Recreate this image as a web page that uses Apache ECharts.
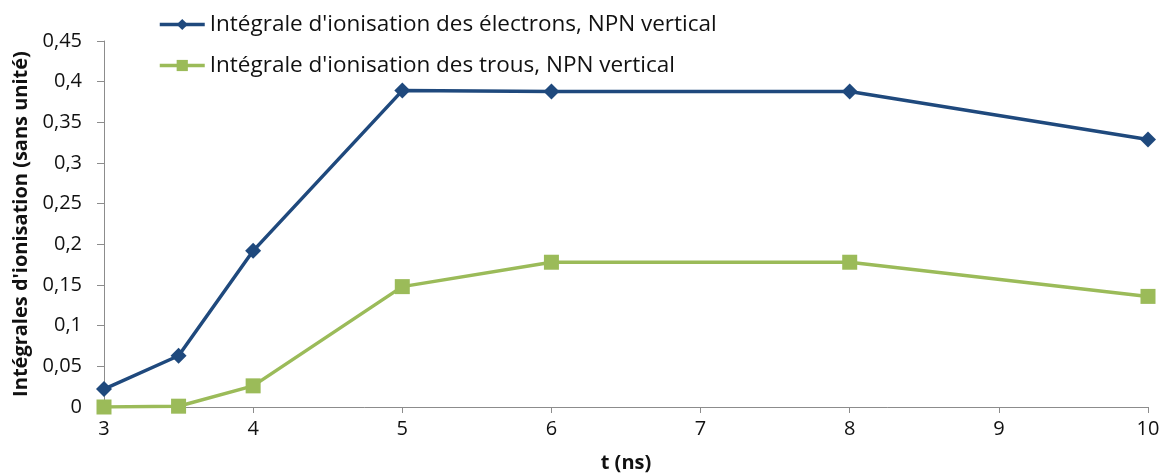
<!DOCTYPE html>
<html>
<head>
<meta charset="utf-8">
<script src="https://cdn.jsdelivr.net/npm/echarts@6/dist/echarts.min.js"></script>
<style>
  html, body { margin: 0; padding: 0; background: #fff; }
  #chart { width: 1167px; height: 475px; }
</style>
</head>
<body>
<div id="chart"></div>
<script>
// Time samples (ns)
const times = [3, 3.5, 4, 5, 6, 8, 10];
// Ionisation integrals (dimensionless)
const electrons = [0.022, 0.063, 0.192, 0.389, 0.388, 0.388, 0.329];
const holes = [0.0, 0.001, 0.026, 0.148, 0.178, 0.178, 0.136];
const seriesNames = [
  "Intégrale d'ionisation des électrons, NPN vertical",
  "Intégrale d'ionisation des trous, NPN vertical"
];
const xTitle = 't (ns)';
const yTitle = "Intégrales d'ionisation (sans unité)";

const FONT = '"Open Sans", "DejaVu Sans", sans-serif';
const fmtComma = v => String(+v.toFixed(2)).replace('.', ',');

const chart = echarts.init(document.getElementById('chart'));
chart.setOption({
  animation: false,
  backgroundColor: '#ffffff',
  textStyle: { fontFamily: FONT },
  grid: { left: 104, right: 19, top: 41, bottom: 68, outerBoundsMode: 'none', containLabel: false },
  legend: {
    orient: 'vertical',
    left: 153,
    top: 8,
    itemGap: 18,
    itemWidth: 45,
    itemHeight: 14,
    lineStyle: { width: 3.5 },
    textStyle: { fontSize: 22.5, color: '#111', fontFamily: FONT },
    data: seriesNames
  },
  xAxis: {
    type: 'value',
    min: 3, max: 10, interval: 1,
    name: xTitle,
    nameLocation: 'middle',
    nameGap: 46,
    nameTextStyle: { fontSize: 20, fontWeight: 'bold', color: '#111', fontFamily: FONT },
    axisLine: { show: true, lineStyle: { color: '#8c8c8c', width: 1 } },
    axisTick: { show: true, length: 6, lineStyle: { color: '#8c8c8c' } },
    axisLabel: { fontSize: 20, color: '#111', margin: 12, fontFamily: FONT },
    splitLine: { show: false }
  },
  yAxis: {
    type: 'value',
    min: 0, max: 0.45, interval: 0.05,
    name: yTitle,
    nameLocation: 'middle',
    nameGap: 72,
    nameRotate: 90,
    nameTextStyle: { fontSize: 20, fontWeight: 'bold', color: '#111', fontFamily: FONT },
    axisLine: { show: true, lineStyle: { color: '#8c8c8c', width: 1 } },
    axisTick: { show: true, inside: false, length: 7, lineStyle: { color: '#8c8c8c' } },
    axisLabel: { fontSize: 20, color: '#111', margin: 22, fontFamily: FONT, formatter: fmtComma },
    splitLine: { show: false }
  },
  series: [
    {
      name: seriesNames[0],
      type: 'line',
      data: times.map((t, i) => [t, electrons[i]]),
      symbol: 'diamond',
      symbolSize: 16,
      lineStyle: { color: '#1f497d', width: 3.5 },
      itemStyle: { color: '#1f497d' }
    },
    {
      name: seriesNames[1],
      type: 'line',
      data: times.map((t, i) => [t, holes[i]]),
      symbol: 'rect',
      symbolSize: 15,
      lineStyle: { color: '#9bbb59', width: 3.5 },
      itemStyle: { color: '#9bbb59' }
    }
  ]
});
</script>
</body>
</html>
